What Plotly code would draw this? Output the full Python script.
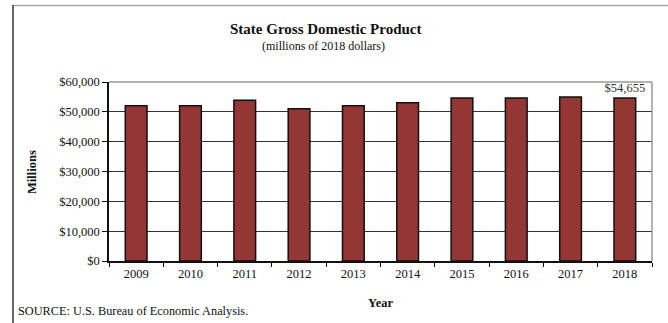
import plotly.graph_objects as go

years = ["2009", "2010", "2011", "2012", "2013", "2014", "2015", "2016", "2017", "2018"]
gdp = [52050, 52050, 53900, 51000, 52050, 53050, 54600, 54600, 54950, 54655]
labels = [""] * 9 + ["$54,655"]
y_ticks = [0, 10000, 20000, 30000, 40000, 50000, 60000]
y_ticktext = ["$0", "$10,000", "$20,000", "$30,000", "$40,000", "$50,000", "$60,000"]

W, H = 668, 323
L, R, T, B = 109, 652, 82, 261
pw, ph = R - L, B - T

def px(x):
    return (x - L) / pw

def py(y):
    return (B - y) / ph

font = "Liberation Serif, Times New Roman, serif"

fig = go.Figure()
fig.add_trace(go.Bar(
    x=years, y=gdp, width=0.4,
    marker=dict(color="#943634", line=dict(color="#111111", width=1.5)),
    text=labels, textposition="outside", cliponaxis=False, constraintext="none",
    textfont=dict(family=font, size=12.5, color="#333"),
))

fig.update_layout(
    width=W, height=H,
    margin=dict(l=L, r=W - R, t=T, b=H - B),
    paper_bgcolor="white", plot_bgcolor="white",
    showlegend=False,
    font=dict(family=font, size=12.5, color="#111"),
    xaxis=dict(
        type="category", tickson="boundaries", ticks="outside", ticklen=4,
        tickcolor="#111", showline=True, linecolor="#111", linewidth=1.5,
        showgrid=False, tickfont=dict(family=font, size=12.5, color="#111"),
    ),
    yaxis=dict(
        range=[0, 60000], tickvals=y_ticks, ticktext=y_ticktext,
        ticks="outside", ticklen=5, tickcolor="#111",
        showline=True, linecolor="#111", linewidth=1.5,
        showgrid=True, gridcolor="#333", gridwidth=1,
        tickfont=dict(family=font, size=12.5, color="#111"),
        zeroline=False,
    ),
    bargap=0.6,
)

shapes = [
    dict(type="line", xref="paper", yref="paper", x0=0, x1=1, y0=1, y1=1,
         line=dict(color="#999", width=1.5)),
    dict(type="line", xref="paper", yref="paper", x0=1, x1=1, y0=0, y1=1,
         line=dict(color="#999", width=1.5)),
    dict(type="line", xref="paper", yref="paper", x0=px(13), x1=px(668), y0=py(5.5), y1=py(5.5),
         line=dict(color="#aaa", width=1.5)),
    dict(type="line", xref="paper", yref="paper", x0=px(13), x1=px(13), y0=py(5), y1=py(323),
         line=dict(color="#333", width=1.5)),
]
fig.update_layout(shapes=shapes)

annotations = [
    dict(text="<b>State Gross Domestic Product</b>", x=px(326), y=py(29), xref="paper", yref="paper",
         showarrow=False, font=dict(family=font, size=15, color="#111"), xanchor="center", yanchor="middle"),
    dict(text="(millions of 2018 dollars)", x=px(323), y=py(46), xref="paper", yref="paper",
         showarrow=False, font=dict(family=font, size=12, color="#111"), xanchor="center", yanchor="middle"),
    dict(text="<b>Millions</b>", x=px(32), y=py(172), xref="paper", yref="paper", textangle=-90,
         showarrow=False, font=dict(family=font, size=12.5, color="#111"), xanchor="center", yanchor="middle"),
    dict(text="<b>Year</b>", x=px(380), y=py(303), xref="paper", yref="paper",
         showarrow=False, font=dict(family=font, size=12.5, color="#111"), xanchor="center", yanchor="middle"),
    dict(text="SOURCE: U.S. Bureau of Economic Analysis.", x=px(16), y=py(311), xref="paper", yref="paper",
         showarrow=False, font=dict(family=font, size=12.3, color="#111"), xanchor="left", yanchor="middle"),
]
fig.update_layout(annotations=annotations)

fig.write_html("out.html", config={"displayModeBar": False},
               post_script="document.body.style.margin='0';document.body.style.overflow='hidden';")
